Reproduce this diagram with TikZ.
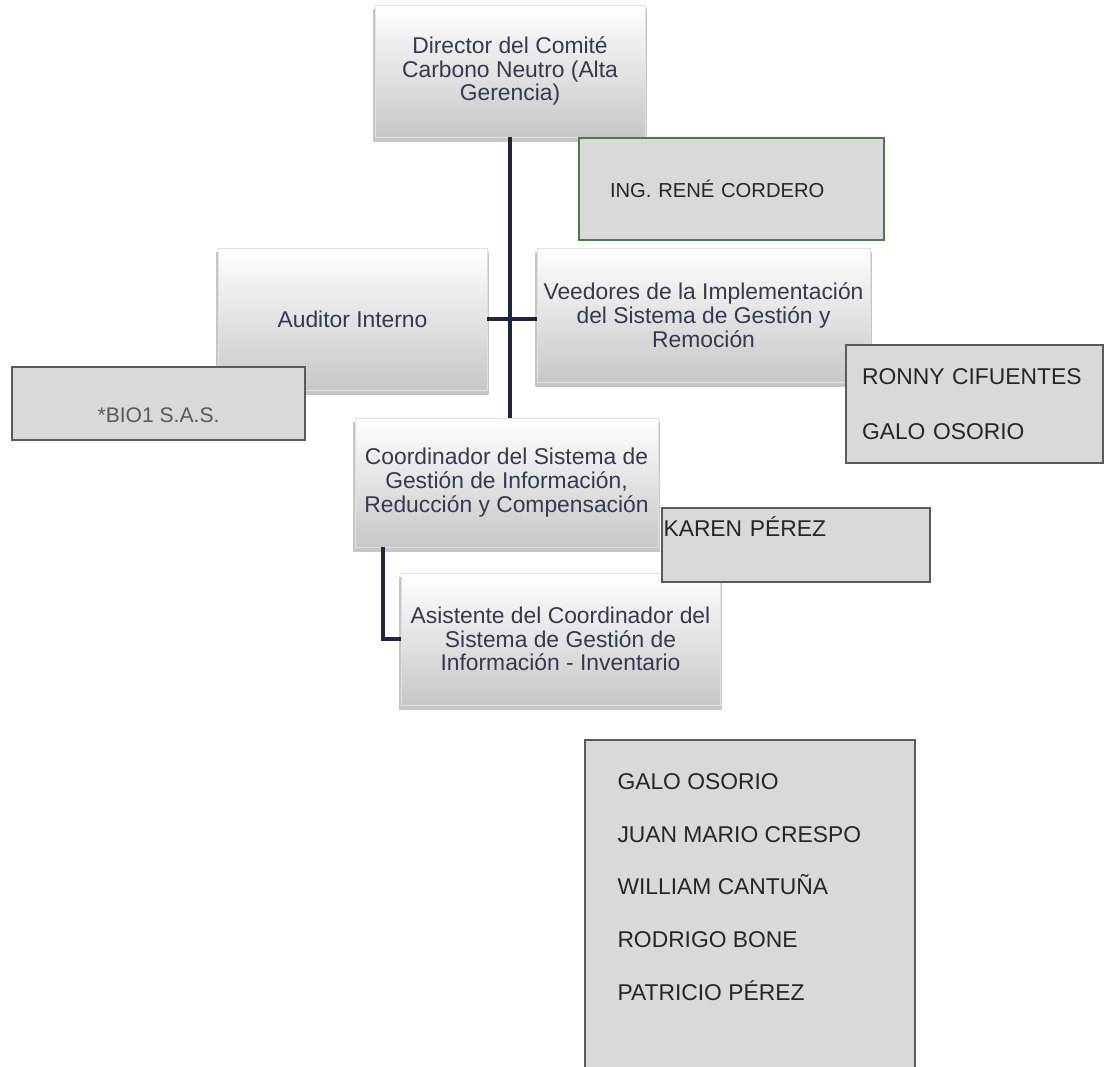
\documentclass[tikz,border=0pt]{standalone}
\usepackage{fontspec}
\setmainfont{Liberation Sans}
\usetikzlibrary{shadows}
\definecolor{orgtext}{HTML}{343A4E}
\definecolor{linkblue}{HTML}{1C2640}
\definecolor{namefill}{HTML}{D9D9D9}
\definecolor{nameline}{HTML}{5A5A5A}
\definecolor{renegreen}{HTML}{4E7A44}
\begin{document}
\begin{tikzpicture}[x=0.02cm, y=-0.02cm,
    orgbox/.style={rectangle, draw=black!12, top color=white, bottom color=black!22,
      drop shadow={shadow xshift=0pt, shadow yshift=-2.5pt, shadow scale=1.012, opacity=0.45},
      text=orgtext, align=center, inner sep=2pt,
      font=\fontsize{13}{13.5}\selectfont},
    namebox/.style={rectangle, draw=nameline, line width=1pt, fill=namefill,
      text=black!85, font=\fontsize{13}{15}\selectfont},
    listtext/.style={anchor=north west, inner sep=0pt, align=left,
      text=black!85, font=\fontsize{13}{30}\selectfont},
    link/.style={draw=linkblue, line width=2.2pt}]
  \useasboundingbox (0,0) rectangle (1105,1067);
  \node[orgbox, minimum width=5.4cm, minimum height=2.64cm] (director) at (510,71)
    {Director del Comité\\Carbono Neutro (Alta\\Gerencia)};
  \node[orgbox, minimum width=5.38cm, minimum height=2.84cm] (auditor) at (352.5,319)
    {Auditor Interno};
  \node[orgbox, minimum width=6.66cm, minimum height=2.68cm] (veedores) at (703.5,315)
    {Veedores de la Implementación\\del Sistema de Gestión y\\Remoción};
  \node[orgbox, minimum width=6.06cm, minimum height=2.58cm] (coord) at (506.5,482.5)
    {Coordinador del Sistema de\\Gestión de Información,\\Reducción y Compensación};
  \node[orgbox, minimum width=6.38cm, minimum height=2.64cm] (asis) at (560.5,639)
    {Asistente del Coordinador del\\Sistema de Gestión de\\Información - Inventario};
  \begin{scope}[link]
    \draw (director.south) -- (director.south |- coord.north);
    \draw (auditor.east) -- (auditor.east -| veedores.west);
    \draw ([xshift=0.56cm]coord.south west) |- (asis.west);
  \end{scope}
  \node[namebox, draw=renegreen, minimum width=6.1cm, minimum height=2.04cm,
    text width=4.86cm, align=left, inner xsep=0.62cm,
    font=\fontsize{11.5}{13}\selectfont] (rene) at (731.5,189) {ING. RENÉ CORDERO};
  \node[namebox, minimum width=5.86cm, text height=1.11cm, text depth=0.35cm,
    inner ysep=0pt, text=black!65, font=\fontsize{12}{14}\selectfont]
    (bio) at (158.5,403.5) {*BIO1 S.A.S.};
  \node[namebox, minimum width=5.14cm, minimum height=2.36cm, text width=4.5cm,
    align=left, inner xsep=0.32cm] (ronny) at (974.5,404)
    {RONNY CIFUENTES\\[0.57cm]GALO OSORIO};
  \node[namebox, text width=5.3cm, align=left, inner xsep=0.03cm, inner ysep=0pt,
    text height=0.56cm, text depth=0.92cm] (karen) at (796,545) {KAREN PÉREZ};
  \node[namebox, minimum width=6.6cm, minimum height=6.8cm] (list) at (750,910) {};
  \node[listtext] (listnames) at ([xshift=0.66cm, yshift=-0.68cm]list.north west)
    {GALO OSORIO\\JUAN MARIO CRESPO\\WILLIAM CANTUÑA\\RODRIGO BONE\\PATRICIO PÉREZ};
\end{tikzpicture}
\end{document}
